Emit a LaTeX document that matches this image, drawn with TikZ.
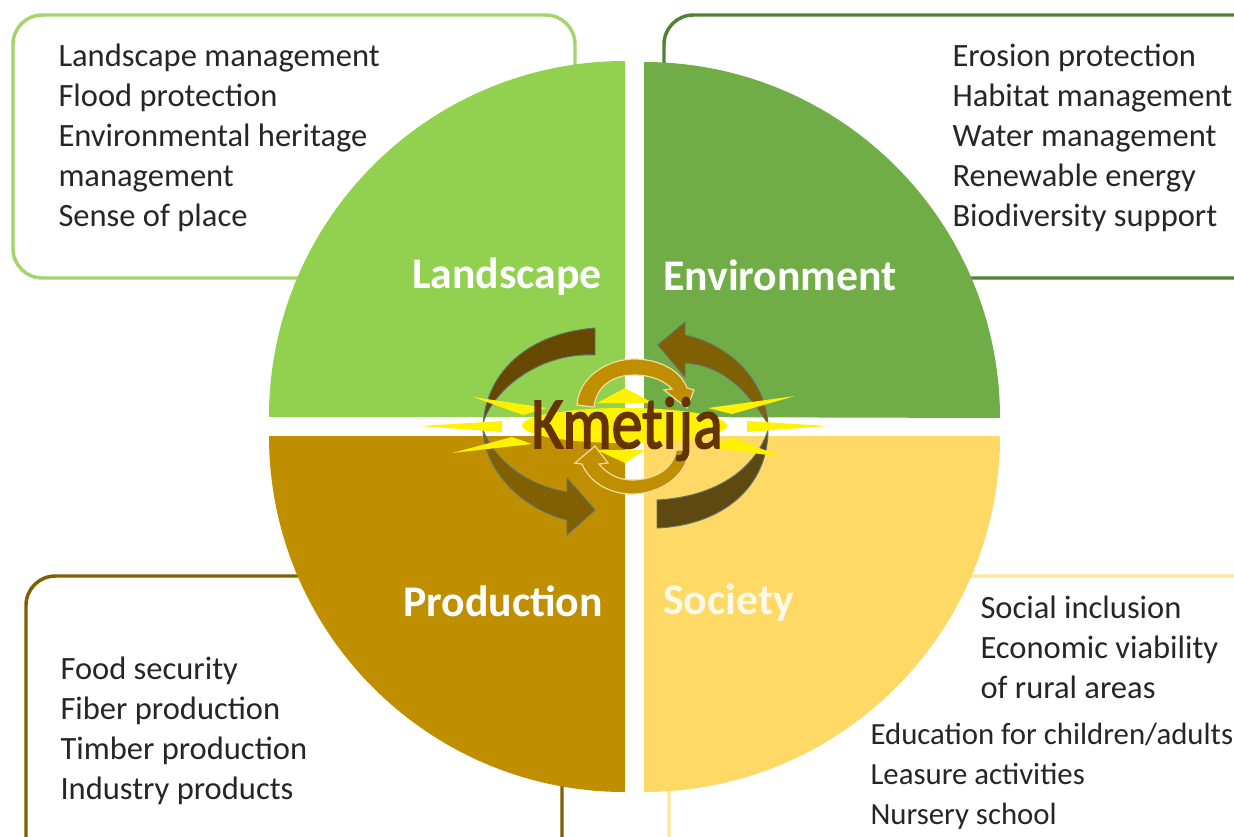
\documentclass[tikz,border=0pt]{standalone}
\usepackage{fontspec}
\setmainfont{Carlito}
\definecolor{cLand}{HTML}{92D050}
\definecolor{cEnv}{HTML}{70AD47}
\definecolor{cProd}{HTML}{BF8F00}
\definecolor{cSoc}{HTML}{FFD966}
\definecolor{bLand}{HTML}{A4D56C}
\definecolor{bEnv}{HTML}{548235}
\definecolor{bProd}{HTML}{7F6000}
\definecolor{bSoc}{HTML}{FFE699}
\definecolor{txt}{HTML}{262626}
\definecolor{edge}{HTML}{5F7478}
\definecolor{kmet}{HTML}{663300}
\definecolor{arrA}{HTML}{664800}
\definecolor{arrB}{HTML}{806000}
\definecolor{arrC}{HTML}{5E4A10}
\definecolor{ringb}{HTML}{F0DDA0}
\tikzset{
  x=0.75pt,y=-0.75pt,
  infobox/.style={line width=2.6pt,rounded corners=22pt},
  quadrant/.style={draw=none},
  listtext/.style={text=txt,inner sep=0pt,outer sep=0pt,align=left,anchor=north west,
    font=\fontsize{24.4}{30}\selectfont},
  headtext/.style={text=white,inner sep=0pt,anchor=base west,
    font=\fontsize{32.8}{38}\bfseries\selectfont},
  bigarrow/.style={draw=edge,line width=0.7pt},
  smallarrow/.style={fill=cProd,draw=ringb,line width=0.9pt},
  burst/.style={fill=yellow,draw=none},
}
\begin{document}
\begin{tikzpicture}
\useasboundingbox (0,0) rectangle (1234,836);
\fill[white] (0,0) rectangle (1234,836);
% boxes
\draw[infobox,draw=bLand] (13,15) rectangle (575,278);
\draw[infobox,draw=bEnv] (1300,15) -- (664,15) -- (664,278) -- (1300,278);
\draw[infobox,draw=bProd] (26,900) -- (26,576) -- (562,576) -- (562,900);
\draw[infobox,draw=bSoc] (1300,576) -- (669,576) -- (669,900) -- (1300,900);
% quadrants
\fill[quadrant,cLand] (625,417) -- (269,417) arc[start angle=180,end angle=90,radius=356*0.75pt] -- cycle;
\fill[quadrant,cEnv] (644,417) -- (644,62) arc[start angle=90,end angle=0,radius=356*0.75pt] -- cycle;
\fill[quadrant,cProd] (625,436) -- (625,792) arc[start angle=-90,end angle=-180,radius=356*0.75pt] -- cycle;
\fill[quadrant,cSoc] (644,436) -- (1000,436) arc[start angle=0,end angle=-90,radius=356*0.75pt] -- cycle;
% big arrows
\filldraw[bigarrow,fill=arrA] (595,328) .. controls (530,333) and (487,370) .. (483,424) .. controls (490,395) and (535,352) .. (595,355) -- cycle;
\filldraw[bigarrow,fill=arrB] (483,430) .. controls (485,470) and (520,508) .. (567,520) -- (567,535) -- (595,510) -- (567,478) -- (567,492) .. controls (525,485) and (495,460) .. (483,430) -- cycle;
\filldraw[bigarrow,fill=arrB] (658,345) -- (685,322) -- (685,335) .. controls (730,345) and (765,380) .. (768,424) .. controls (750,395) and (725,365) .. (685,363) -- (685,377) -- cycle;
\filldraw[bigarrow,fill=arrC] (657,528) .. controls (725,525) and (768,485) .. (768,430) .. controls (755,470) and (715,497) .. (657,500) -- cycle;
% small arrows
\filldraw[smallarrow] (577,405) .. controls (579,375) and (610,359) .. (634,359) .. controls (660,359) and (681,371) .. (687,388) -- (694,390) -- (687,408) -- (664,390) -- (672,389) .. controls (664,380) and (650,375) .. (634,375) .. controls (612,375) and (596,387) .. (594,407) -- cycle;
\filldraw[smallarrow] (689,450) .. controls (687,476) and (660,494) .. (632,494) .. controls (610,494) and (590,483) .. (582,464) -- (575,463) -- (595,446) -- (608,463) -- (599,464) .. controls (606,473) and (618,480) .. (632,480) .. controls (655,480) and (674,468) .. (676,450) -- cycle;
% burst
\fill[burst] (624.5,425.5) ellipse [x radius=102.5*0.75pt,y radius=17.5*0.75pt];
\fill[burst] (597,403) -- (625,388) -- (653,403) -- cycle;
\fill[burst] (597,450) -- (625,463) -- (645,450) -- cycle;
\fill[burst] (420,426) -- (502,421) -- (502,432) -- cycle;
\fill[burst] (828,426) -- (747,421) -- (747,432) -- cycle;
\fill[burst] (473,397) -- (547,408) -- (523,415) -- cycle;
\fill[burst] (795,396) -- (708,408) -- (732,414) -- cycle;
\fill[burst] (452,453) -- (512,437) -- (532,444) -- cycle;
\fill[burst] (783,457) -- (733,438) -- (708,447) -- cycle;
% centre
\node[text=kmet,inner sep=0pt,anchor=base] (kmetija) at (627,448) {\scalebox{0.84}[1]{\fontsize{55}{60}\selectfont\addfontfeatures{FakeBold=2.5,RawFeature=-liga;-dlig;-clig}Kmeti\kern1.5pt ja}};
% heads
\node[headtext] (landscape) at (412,288) {Landscape};
\node[headtext] (environment) at (663,290) {Environment};
\node[headtext] (production) at (403,616) {Production};
\node[headtext,text=white!85!cSoc] (society) at (663,614) {Society};
% lists
\node[listtext] (l1) at (58.5,44) {Landscape management\\Flood protection\\Environmental heritage\\management\\Sense of place};
\node[listtext] (l2) at (952.5,44) {Erosion protection\\Habitat management\\Water management\\Renewable energy\\Biodiversity support};
\node[listtext] (l3) at (60.5,657) {Food security\\Fiber production\\Timber production\\Industry products};
\node[listtext] (l4) at (980.5,596) {Social inclusion\\Economic viability\\of rural areas};
\node[listtext,font=\fontsize{23.1}{30}\selectfont] (l5) at (870.5,723) {Education for children/adults\\Leasure activities\\Nursery school};
\end{tikzpicture}
\end{document}
